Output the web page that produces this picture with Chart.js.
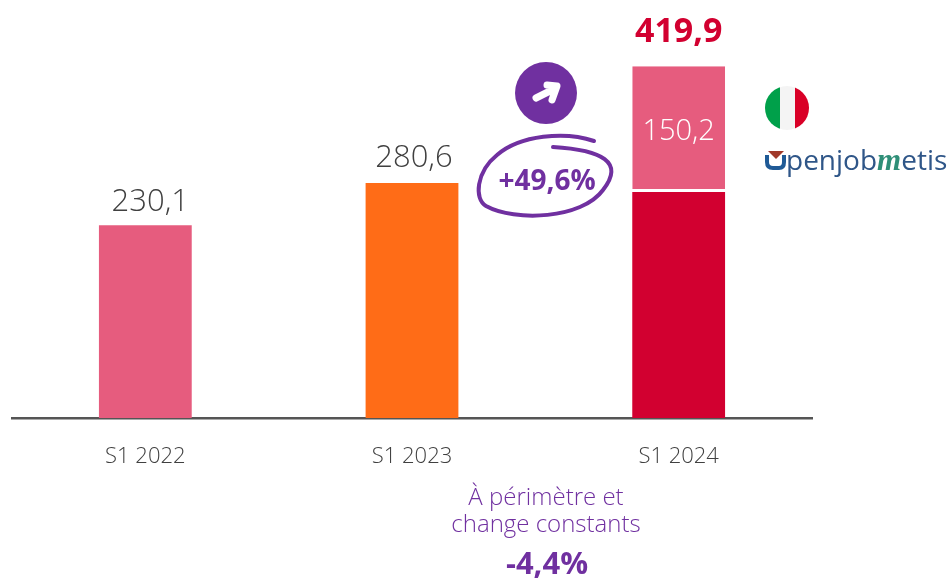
<!DOCTYPE html>
<html><head><meta charset="utf-8">
<style>html,body{margin:0;padding:0;background:#fff}#w{position:relative;width:952px;height:579px}</style>
<script src="https://cdn.jsdelivr.net/npm/chart.js@4"></script>
</head><body><div id="w"><canvas id="c" width="952" height="579"></canvas></div>
<script>
const categories = ["S1 2022","S1 2023","S1 2024"];
const baseValues = [230.1,280.6,269.7];
const openjobValues = [null,null,150.2];
const totalLabels = ["230,1","280,6","419,9"];
const totals = [230.1,280.6,419.9];
const growth = "+49,6%";
const organicLines = ["À périmètre et","change constants"];
const organic = "-4,4%";
const PURPLE="#7030a0", PINK="#e65c7e", ORANGE="#ff6c17", RED="#d20030", GREY="#404040";
const F="'Open Sans'";
function txt(ctx,s,x,y,font,color){ctx.font=font;ctx.fillStyle=color;ctx.textAlign="center";ctx.textBaseline="middle";ctx.fillText(s,x,y);}
const deco={id:"deco",afterDatasetsDraw(chart){
 const {ctx,scales:{x,y}}=chart; ctx.save();
 txt(ctx,totalLabels[0],x.getPixelForValue(0)+5,y.getPixelForValue(totals[0])-23,`300 31px ${F}`,GREY);
 txt(ctx,totalLabels[1],x.getPixelForValue(1)+2,y.getPixelForValue(totals[1])-25,`300 31px ${F}`,GREY);
 txt(ctx,totalLabels[2],x.getPixelForValue(2),y.getPixelForValue(totals[2])-34,`700 34px ${F}`,RED);
 txt(ctx,String(openjobValues[2]).replace(".",","),x.getPixelForValue(2),y.getPixelForValue(baseValues[2]+openjobValues[2]/2)+3,`300 29px ${F}`,"#fff");
 ctx.fillStyle=PURPLE;ctx.beginPath();ctx.arc(546,93,31,0,Math.PI*2);ctx.fill();
 ctx.strokeStyle="#fff";ctx.lineWidth=7;ctx.lineCap="round";ctx.lineJoin="round";
 ctx.beginPath();ctx.moveTo(536,98);ctx.lineTo(556,88);ctx.moveTo(547,85);ctx.lineTo(557,86);ctx.lineTo(552,100);ctx.stroke();
 ctx.strokeStyle=PURPLE;ctx.lineWidth=4;
 ctx.beginPath();ctx.moveTo(594,141);
 ctx.bezierCurveTo(565,131,520,135,497,155);
 ctx.bezierCurveTo(476,172,474,199,486,206);
 ctx.bezierCurveTo(515,222,582,219,603,190);
 ctx.bezierCurveTo(625,162,602,150,553,147);
 ctx.stroke();
 txt(ctx,growth,547,182,`700 28px ${F}`,PURPLE);
 txt(ctx,organicLines[0],546,498,`300 24px ${F}`,PURPLE);
 txt(ctx,organicLines[1],546,525,`300 24px ${F}`,PURPLE);
 txt(ctx,organic,547,565,`700 31px ${F}`,PURPLE);
 ctx.save();ctx.beginPath();ctx.arc(787,108,22,0,Math.PI*2);ctx.clip();
 ctx.fillStyle="#00a04a";ctx.fillRect(765,86,15,44);
 ctx.fillStyle="#f4f4f4";ctx.fillRect(780,86,15,44);
 ctx.fillStyle="#d90027";ctx.fillRect(795,86,15,44);ctx.restore();
 ctx.fillStyle="#a0392a";ctx.beginPath();ctx.moveTo(768,151);ctx.lineTo(784,151);ctx.lineTo(776,159);ctx.fill();
 ctx.strokeStyle="#1f5a96";ctx.lineWidth=4;ctx.lineCap="butt";ctx.beginPath();ctx.moveTo(767,155);ctx.lineTo(767,162);ctx.quadraticCurveTo(767,168,773,168);ctx.lineTo(779,168);ctx.quadraticCurveTo(784,168,784,162);ctx.lineTo(784,155);ctx.stroke();
 ctx.textAlign="left";ctx.textBaseline="alphabetic";
 ctx.font=`400 28px ${F}`;ctx.fillStyle="#2f5688";ctx.fillText("penjob",786,170);
 let w=ctx.measureText("penjob").width;
 ctx.font="italic 700 31px 'Liberation Serif'";ctx.fillStyle="#2f8f78";ctx.fillText("m",786+w,170);
 let m=ctx.measureText("m").width;
 ctx.font=`400 28px ${F}`;ctx.fillStyle="#2f5688";ctx.fillText("etis",786+w+m,170);
 ctx.restore();
}};
new Chart(document.getElementById("c"),{type:"bar",
 data:{labels:categories,datasets:[
  {label:"Groupe",data:baseValues,backgroundColor:[PINK,ORANGE,RED],stack:"s",barPercentage:0.87,categoryPercentage:0.4},
  {label:"Openjobmetis",data:openjobValues,backgroundColor:PINK,borderColor:"#fff",borderWidth:{bottom:3,top:0,left:0,right:0},borderSkipped:false,stack:"s",barPercentage:0.87,categoryPercentage:0.4}
 ]},
 plugins:[deco],
 options:{responsive:false,animation:false,
  layout:{padding:{left:12,right:140,top:0,bottom:0}},
  plugins:{legend:{display:false},tooltip:{enabled:false}},
  scales:{
   x:{stacked:true,grid:{display:false,drawTicks:false},border:{color:"#555",width:2.5},
      ticks:{color:GREY,font:{family:"Open Sans",size:22,weight:"300"},padding:26,maxRotation:0},afterFit(s){s.height=161;}},
   y:{stacked:true,display:false,min:0,max:499}
  }}
});
</script></body></html>
